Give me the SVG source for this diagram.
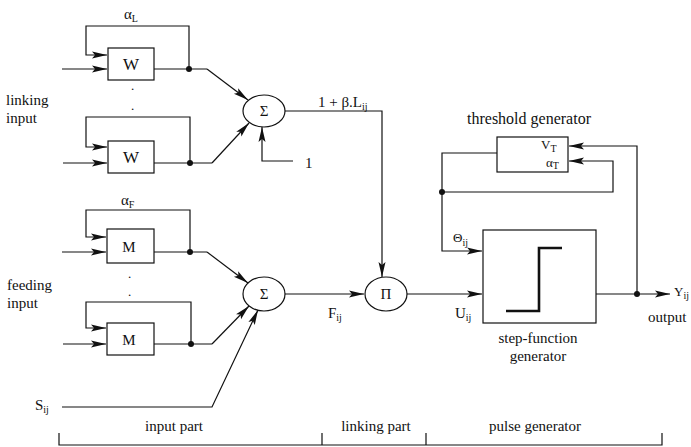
<svg xmlns="http://www.w3.org/2000/svg" width="691" height="447" viewBox="0 0 691 447">
<style>
  .ln{fill:none;stroke:#111;stroke-width:1.2}
  .ar{fill:none;stroke:#111;stroke-width:1.2;marker-end:url(#ah)}
  .bx{fill:#fff;stroke:#111;stroke-width:1.2}
  .t{font-family:'Liberation Serif','Times New Roman','DejaVu Serif',serif;font-size:15px;fill:#111}
  .s{font-size:10px}
  .c{text-anchor:middle}
  .dot{fill:#111}
</style>
<defs>
  <marker id="ah" markerUnits="userSpaceOnUse" markerWidth="16" markerHeight="9" refX="15" refY="4.5" orient="auto">
    <path d="M0,1 L15,4.5 L0,8 L3,4.5 Z" fill="#111"/>
  </marker>
</defs>
<rect width="691" height="447" fill="#fff"/>

<g id="connectors">
  <path class="ar" d="M62,69 H107"/>
  <path class="ar" d="M189,69 V26 H86 V55 H107"/>
  <path class="ln" d="M154,69 H207"/>
  <path class="ar" d="M207,69 L248,100"/>
  <path class="ar" d="M63,163 H107"/>
  <path class="ar" d="M190,163 V117 H86 V147 H107"/>
  <path class="ln" d="M154,163 H212"/>
  <path class="ar" d="M212,163 L249,123"/>
  <path class="ar" d="M293,161 H262 V127"/>
  <path class="ar" d="M285,111 H382 V277"/>
  <path class="ar" d="M62,252 H106"/>
  <path class="ar" d="M190,252 V210 H86 V237 H106"/>
  <path class="ln" d="M154,252 H207"/>
  <path class="ar" d="M207,252 L248,283"/>
  <path class="ar" d="M63,344 H106"/>
  <path class="ar" d="M191,344 V302 H86 V328 H106"/>
  <path class="ln" d="M154,344 H212"/>
  <path class="ar" d="M212,344 L249,306"/>
  <path class="ar" d="M62,407 H212 L258,310"/>
  <path class="ar" d="M285,294 H364"/>
  <path class="ar" d="M407,294 H482"/>
  <path class="ln" d="M497,153 H442 V192"/>
  <path class="ar" d="M442,192 V251 H482"/>
  <path class="ar" d="M442,192 H613 V161 H569"/>
  <path class="ar" d="M596,294 H670"/>
  <path class="ar" d="M637,294 V146 H569"/>
  <path class="ln" d="M59,433 V445 H662 V433 M322,433 V445 M426,433 V445"/>
  <circle class="dot" cx="189" cy="69" r="3"/>
  <circle class="dot" cx="190" cy="163" r="3"/>
  <circle class="dot" cx="190" cy="252" r="3"/>
  <circle class="dot" cx="191" cy="344" r="3"/>
  <circle class="dot" cx="442" cy="192" r="3"/>
  <circle class="dot" cx="637" cy="294" r="3"/>
</g>

<g id="W1"><rect class="bx" x="108" y="48" width="46" height="32"/><text class="t c" x="131" y="70" style="font-size:17px">W</text></g>
<g id="W2"><rect class="bx" x="108" y="141" width="46" height="32"/><text class="t c" x="131" y="163" style="font-size:17px">W</text></g>
<g id="M1"><rect class="bx" x="107" y="229" width="47" height="34"/><text class="t c" x="129" y="252">M</text></g>
<g id="M2"><rect class="bx" x="107" y="323" width="47" height="32"/><text class="t c" x="129" y="345">M</text></g>
<g id="sumL"><ellipse class="bx" cx="264" cy="111" rx="21" ry="16"/><text class="t c" x="264" y="116">Σ</text></g>
<g id="sumF"><ellipse class="bx" cx="264" cy="294" rx="21" ry="17"/><text class="t c" x="264" y="299">Σ</text></g>
<g id="prod"><ellipse class="bx" cx="386" cy="294" rx="21" ry="17"/><text class="t c" x="386" y="299">Π</text></g>
<g id="threshold"><rect class="bx" x="497" y="137" width="71" height="35"/>
  <text class="t" x="541" y="149" style="font-size:13px">V<tspan class="s" dy="3">T</tspan></text>
  <text class="t" x="546" y="167" style="font-size:13px">α<tspan class="s" dy="2">T</tspan></text>
  <text class="t c" x="529" y="124" style="font-size:16px">threshold generator</text></g>
<g id="step"><rect class="bx" x="483" y="230" width="113" height="93"/>
  <path d="M506,311 H539 V248 H562" fill="none" stroke="#111" stroke-width="2.6"/>
  <text class="t c" x="538" y="343">step-function</text>
  <text class="t c" x="538" y="361">generator</text></g>

<g id="labels">
  <text class="t" x="124" y="19">α<tspan class="s" dy="3">L</tspan></text>
  <text class="t" x="121" y="205">α<tspan class="s" dy="3">F</tspan></text>
  <text class="t" x="131" y="90" style="font-size:13px">.</text>
  <text class="t" x="131" y="110" style="font-size:13px">.</text>
  <text class="t" x="128" y="278" style="font-size:13px">.</text>
  <text class="t" x="128" y="296" style="font-size:13px">.</text>
  <text class="t" x="6" y="105">linking</text>
  <text class="t" x="6" y="123">input</text>
  <text class="t" x="7" y="290">feeding</text>
  <text class="t" x="7" y="308">input</text>
  <text class="t" x="305" y="168">1</text>
  <text class="t" x="318" y="107">1 + β.L<tspan class="s" dy="3">ij</tspan></text>
  <text class="t" x="328" y="318">F<tspan class="s" dy="3">ij</tspan></text>
  <text class="t" x="455" y="318">U<tspan class="s" dy="3">ij</tspan></text>
  <text class="t" x="453" y="242" style="font-size:13px">Θ<tspan class="s" dy="4">ij</tspan></text>
  <text class="t" x="674" y="296" style="font-size:13px">Y<tspan class="s" dy="3">ij</tspan></text>
  <text class="t" x="648" y="322">output</text>
  <text class="t" x="35" y="410">S<tspan class="s" dy="3">ij</tspan></text>
  <text class="t c" x="174" y="431">input part</text>
  <text class="t c" x="376" y="431">linking part</text>
  <text class="t c" x="535" y="431">pulse generator</text>
</g>
</svg>
